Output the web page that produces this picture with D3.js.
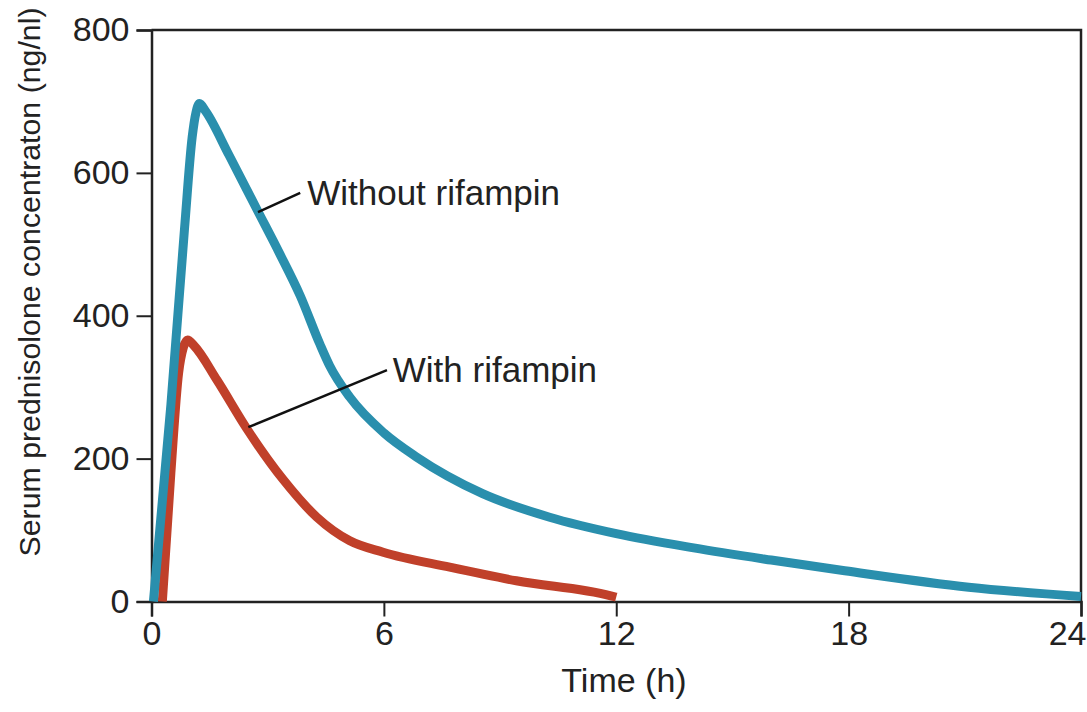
<!DOCTYPE html>
<html>
<head>
<meta charset="utf-8">
<script src="https://cdn.jsdelivr.net/npm/d3@7"></script>
<style>
  html, body { margin: 0; padding: 0; background: #fff; }
  svg { display: block; }
  text { font-family: "Liberation Sans", Arial, Helvetica, sans-serif; fill: #222; }
</style>
</head>
<body>
<svg id="chart" width="1087" height="712"></svg>
<script>
// ---- data ----
const xTicks = [0, 6, 12, 18, 24];
const yTicks = [0, 200, 400, 600, 800];

const withoutTime = [0.05, 0.5, 0.85, 1.05, 1.15, 1.24, 1.4, 2.0, 2.73, 3.3, 3.84, 4.35, 4.6, 5.12, 6.0, 6.85, 8.55, 10.28, 12.0, 14.0, 16.0, 17.9, 21.1, 24.0];
const withoutConc = [0, 275, 520, 650, 685, 697, 686, 625, 548, 488, 428, 360, 330, 286, 236, 202, 151, 118, 95, 75, 58, 43, 20, 7];

const withTime = [0.28, 0.5, 0.7, 0.82, 0.93, 1.1, 1.69, 2.46, 3.41, 4.27, 5.12, 5.98, 7.7, 9.42, 11.86, 12.0];
const withConc = [0, 180, 320, 355, 366, 358, 310, 242, 170, 118, 85, 69, 48, 29, 8, 6];

const seriesNames = ["Without rifampin", "With rifampin"];
// label anchors in data units: curve point, elbow, text start
const labelCurvePt = [[2.75, 545], [2.5, 244]];
const labelElbowPt = [[3.84, 572], [6.08, 324]];
const labelTextPt = [[4.02, 555], [6.23, 307]];

const xTitle = "Time (h)";
const yTitle = "Serum prednisolone concentraton (ng/nl)";

// ---- chart ----
const svg = d3.select("#chart");
const x = d3.scaleLinear().domain([0, 24]).range([151.5, 1081]);
const y = d3.scaleLinear().domain([0, 800]).range([601.5, 30]);
const ink = "#222";
const fontSize = 34;
const fam = '"Liberation Sans", Arial, Helvetica, sans-serif';

// frame (top and right)
svg.append("path")
  .attr("d", `M${x(0)},${y(800)}H${x(24)}V${y(0)}`)
  .attr("fill", "none").attr("stroke", ink).attr("stroke-width", 2.5);

// x axis
const xAxis = svg.append("g").attr("transform", `translate(0,${y(0)})`)
  .call(d3.axisBottom(x).tickValues(xTicks).tickFormat(d3.format("d")).tickSize(15).tickPadding(4));
xAxis.select(".domain").attr("stroke", ink).attr("stroke-width", 2.5);
xAxis.selectAll(".tick line").attr("stroke", ink).attr("stroke-width", 2);
xAxis.selectAll(".tick text").attr("font-size", fontSize).attr("fill", ink).style("font-family", fam);
xAxis.selectAll(".tick").filter(d => d === 24).select("text")
  .attr("text-anchor", "end").attr("x", 1086 - x(24));

// y axis
const yAxis = svg.append("g").attr("transform", `translate(${x(0)},0)`)
  .call(d3.axisLeft(y).tickValues(yTicks).tickFormat(d3.format("d")).tickSize(15).tickPadding(7));
yAxis.select(".domain").attr("stroke", ink).attr("stroke-width", 2.5);
yAxis.selectAll(".tick line").attr("stroke", ink).attr("stroke-width", 2);
yAxis.selectAll(".tick text").attr("font-size", fontSize).attr("fill", ink).style("font-family", fam);

// titles
svg.append("text").attr("x", 624).attr("y", 692)
  .attr("text-anchor", "middle").attr("font-size", fontSize).text(xTitle);
svg.append("text")
  .attr("transform", `translate(40,282) rotate(-90)`)
  .attr("text-anchor", "middle").attr("font-size", 30.3).text(yTitle);

// lines
const line = d3.line().x(d => x(d[0])).y(d => y(d[1])).curve(d3.curveMonotoneX);
const withoutData = withoutTime.map((t, i) => [t, withoutConc[i]]);
const withData = withTime.map((t, i) => [t, withConc[i]]);

svg.append("path").datum(withData).attr("d", line)
  .attr("fill", "none").attr("stroke", "#c0402a").attr("stroke-width", 9)
  .attr("stroke-linejoin", "round").attr("stroke-linecap", "butt");
svg.append("path").datum(withoutData).attr("d", line)
  .attr("fill", "none").attr("stroke", "#2a8fad").attr("stroke-width", 9)
  .attr("stroke-linejoin", "round").attr("stroke-linecap", "butt");

// labels with leader lines
seriesNames.forEach((name, i) => {
  const a = labelCurvePt[i], b = labelElbowPt[i], c = labelTextPt[i];
  svg.append("line")
    .attr("x1", x(a[0])).attr("y1", y(a[1]))
    .attr("x2", x(b[0])).attr("y2", y(b[1]))
    .attr("stroke", "#111").attr("stroke-width", 2.5);
  svg.append("text").attr("x", x(c[0])).attr("y", y(c[1]))
    .attr("font-size", 35).text(name);
});
</script>
</body>
</html>
